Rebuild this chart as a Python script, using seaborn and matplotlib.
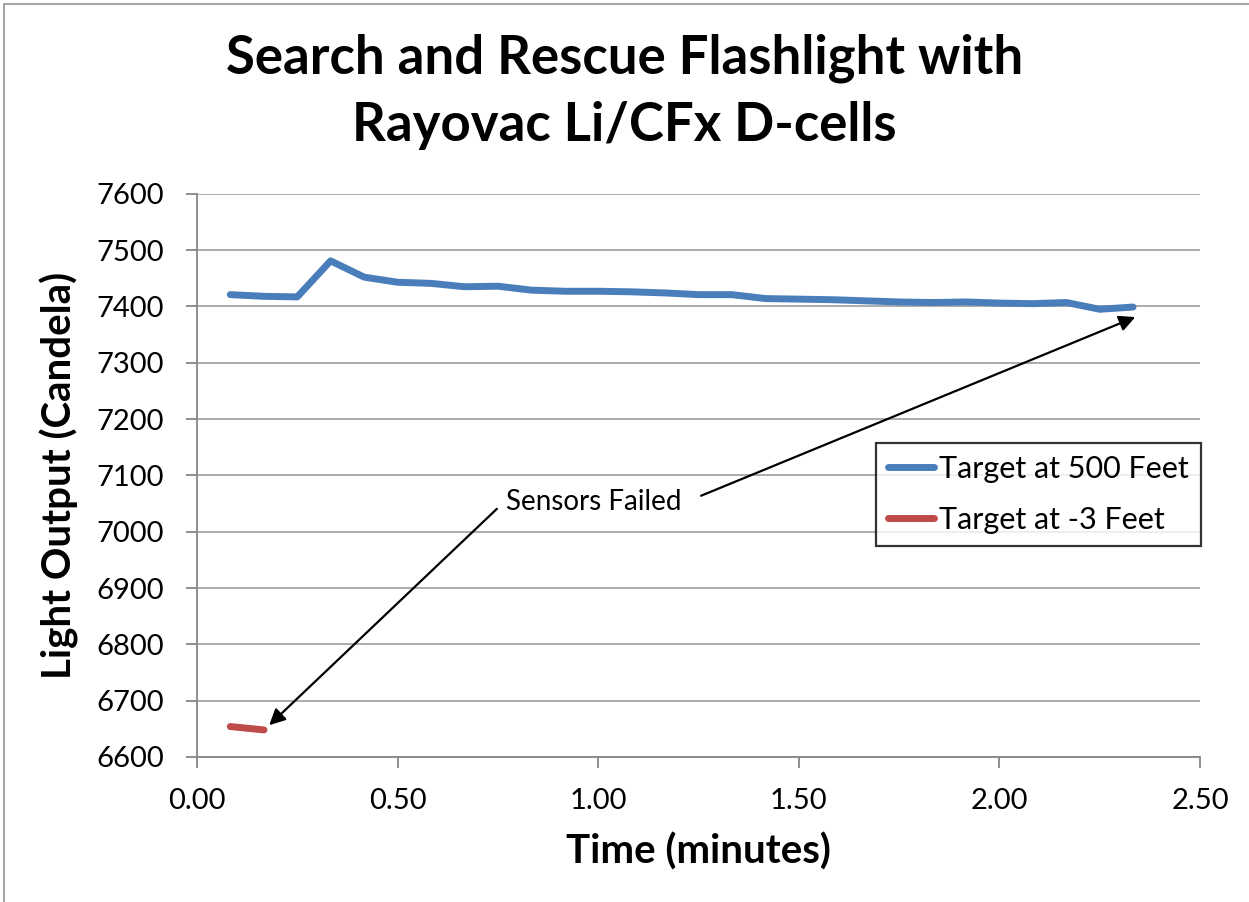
import numpy as np
import pandas as pd
import matplotlib
matplotlib.use("Agg")
import matplotlib.pyplot as plt
import seaborn as sns

# readings every 5 seconds (minutes)
time_500 = [0.083, 0.167, 0.250, 0.333, 0.417, 0.500, 0.583, 0.667, 0.750, 0.833,
            0.917, 1.000, 1.083, 1.167, 1.250, 1.333, 1.417, 1.500, 1.583, 1.667,
            1.750, 1.833, 1.917, 2.000, 2.083, 2.167, 2.250, 2.333]
candela_500 = [7421, 7418, 7417, 7481, 7452, 7443, 7441, 7435, 7436, 7429,
               7427, 7427, 7426, 7424, 7421, 7421, 7414, 7413, 7412, 7410,
               7408, 7407, 7408, 7406, 7405, 7407, 7395, 7399]

time_3 = [0.083, 0.167]
candela_3 = [6654, 6648]

series_names = ["Target at 500 Feet", "Target at -3 Feet"]
colors = ["#4a7ebb", "#be4b48"]

df = pd.concat([
    pd.DataFrame({"time": time_500, "candela": candela_500, "series": series_names[0]}),
    pd.DataFrame({"time": time_3, "candela": candela_3, "series": series_names[1]}),
])

sns.set_style("white")
plt.rcParams["font.family"] = ["Lato", "DejaVu Sans"]
plt.rcParams["text.color"] = "black"
plt.rcParams["axes.labelcolor"] = "black"
plt.rcParams["xtick.color"] = "black"
plt.rcParams["ytick.color"] = "black"

fig = plt.figure(figsize=(12.49, 9.02), dpi=100)
ax = fig.add_axes([0.1577, 0.1608, 0.8031, 0.6243])

sns.lineplot(data=df, x="time", y="candela", hue="series", palette=colors,
             linewidth=5, ax=ax, sort=False)
for ln in ax.get_lines():
    ln.set_solid_capstyle("round")
    ln.set_solid_joinstyle("round")

ax.set_xlim(0, 2.5)
ax.set_ylim(6600, 7600)
ax.set_xticks(np.arange(0, 2.51, 0.5))
ax.set_xticklabels([f"{v:.2f}" for v in np.arange(0, 2.51, 0.5)])
ax.set_yticks(np.arange(6600, 7601, 100))
ax.tick_params(axis="both", labelsize=21, length=8, width=1.3, color="#868686",
               direction="out", left=True, bottom=True)
ax.tick_params(axis="x", pad=14)
ax.tick_params(axis="y", pad=16)
ax.grid(axis="y", color="#a6a6a6", linewidth=1.3)
for s in ["top", "right"]:
    ax.spines[s].set_visible(False)
for s in ["left", "bottom"]:
    ax.spines[s].set_color("#868686")
    ax.spines[s].set_linewidth(1.3)

ax.set_xlabel("Time (minutes)", fontsize=29, fontweight="bold", labelpad=14)
ax.set_ylabel("Light Output (Candela)", fontsize=29, fontweight="bold", labelpad=12)
fig.suptitle("Search and Rescue Flashlight with\nRayovac Li/CFx D-cells",
             fontsize=38, fontweight="bold", y=0.963, linespacing=1.45)

# annotation arrows
ax.annotate("", xy=(2.345, 7383), xytext=(1.25, 7062),
            arrowprops=dict(arrowstyle="-|>", color="black", lw=1.6, mutation_scale=24))
ax.annotate("", xy=(0.175, 6653), xytext=(0.7525, 7044),
            arrowprops=dict(arrowstyle="-|>", color="black", lw=1.6, mutation_scale=24))
ax.text(0.99, 7052, "Sensors Failed", fontsize=20, ha="center", va="center")

leg = ax.legend(loc="upper left", bbox_to_anchor=(0.677, 0.558), fontsize=22,
                frameon=True, fancybox=False, handlelength=1.5, handletextpad=0.15,
                borderpad=0.4, labelspacing=0.75, borderaxespad=0)
leg.get_frame().set_edgecolor("black")
leg.get_frame().set_linewidth(1.6)
for h in leg.get_lines():
    h.set_linewidth(5)

# chart border (top and left edges visible)
fig.add_artist(plt.Line2D([0.003, 1], [0.996, 0.996], color="#a6a6a6", lw=1.5))
fig.add_artist(plt.Line2D([0.003, 0.003], [0, 0.996], color="#a6a6a6", lw=1.5))

fig.savefig("out.png", dpi=100)
plt.close(fig)
